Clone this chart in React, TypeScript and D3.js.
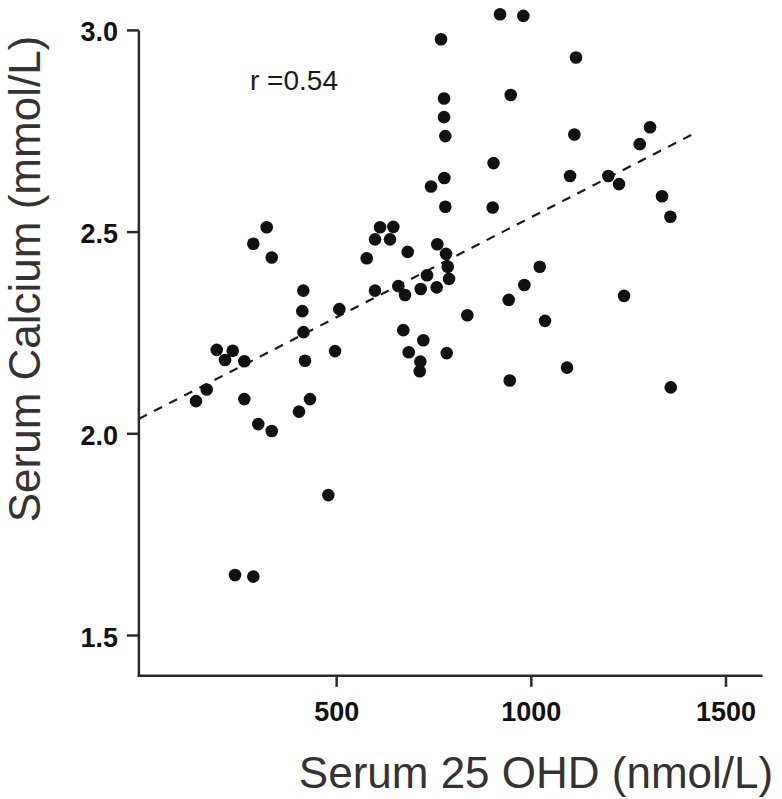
import React from "react";
import * as d3 from "d3";

// Serum 25 OHD (nmol/L) values
const ohd: number[] = [
  919.6, 979.5, 768.0, 1114.8, 947.1, 775.8, 775.8, 779.1, 1110.5, 1304.9,
  1278.4, 902.9, 776.5, 742.4, 1099.4, 1197.8, 1225.3, 1335.7, 779.1, 900.8,
  1357.1, 320.3, 285.9, 333.2, 611.4, 645.5, 598.5, 637.0, 577.2, 682.5,
  758.5, 780.9, 785.3, 788.6, 732.1, 658.4, 675.6, 715.9, 757.0, 598.5,
  1021.6, 982.0, 941.9, 1238.1, 414.3, 411.8, 506.8, 414.8, 495.8, 418.7,
  671.2, 835.6, 1035.2, 722.6, 685.1, 782.7, 714.9, 713.3, 1091.7, 944.5,
  1358.1, 191.9, 233.0, 213.2, 262.8, 166.2, 138.7, 262.8, 431.5, 403.3,
  298.7, 333.2, 478.6, 238.9, 285.9,
];

// Serum calcium (mmol/L) values
const calcium: number[] = [
  3.04, 3.036, 2.978, 2.933, 2.84, 2.831, 2.785, 2.738, 2.742, 2.76,
  2.718, 2.671, 2.634, 2.613, 2.639, 2.639, 2.619, 2.589, 2.563, 2.561,
  2.538, 2.512, 2.471, 2.437, 2.512, 2.513, 2.482, 2.482, 2.435, 2.451,
  2.47, 2.446, 2.414, 2.384, 2.393, 2.366, 2.344, 2.359, 2.363, 2.355,
  2.414, 2.369, 2.332, 2.342, 2.355, 2.304, 2.309, 2.252, 2.205, 2.181,
  2.257, 2.294, 2.28, 2.232, 2.202, 2.2, 2.179, 2.155, 2.164, 2.132,
  2.115, 2.208, 2.206, 2.183, 2.18, 2.11, 2.081, 2.086, 2.086, 2.055,
  2.024, 2.007, 1.848, 1.65, 1.646,
];

const xTicks: number[] = [500, 1000, 1500];
const xTickLabels: string[] = ["500", "1000", "1500"];
const yTicks: number[] = [1.5, 2.0, 2.5, 3.0];
const yTickLabels: string[] = ["1.5", "2.0", "2.5", "3.0"];

// Fitted line
const fitIntercept = 2.041;
const fitSlope = 0.000496;
const fitRange: number[] = [-8, 1413];

const xAxisExtent: number[] = [-8, 1594];
const yAxisExtent: number[] = [1.4, 3.0];

const xTitle = "Serum 25 OHD (nmol/L)";
const yTitle = "Serum Calcium (mmol/L)";
const annotation = "r =0.54";

export default function App() {
  const W = 782;
  const H = 799;
  const x = d3.scaleLinear().domain([0, 1500]).range([142, 726]);
  const y = d3.scaleLinear().domain([1.5, 3.0]).range([635.5, 30.4]);

  const axisColor = "#2b2b2b";
  const points = ohd.map((v, i) => ({ x: v, y: calcium[i] }));
  const line = d3
    .line<number>()
    .x((d) => x(d))
    .y((d) => y(fitIntercept + fitSlope * d));

  const x0 = x(xAxisExtent[0]);
  const x1 = x(xAxisExtent[1]);
  const yTop = y(yAxisExtent[1]);
  const yBot = y(yAxisExtent[0]);

  return (
    <svg
      width={W}
      height={H}
      style={{ position: "absolute", left: 0, top: 0, background: "#fff" }}
      fontFamily="Arial, 'Liberation Sans', Helvetica, sans-serif"
    >
      <rect x={0} y={0} width={W} height={H} fill="#fff" />
      {/* regression line */}
      <path
        d={line(fitRange) || ""}
        fill="none"
        stroke="#1a1a1a"
        strokeWidth={2.2}
        strokeDasharray="9,8"
      />
      {/* points */}
      {points.map((p, i) => (
        <circle key={i} cx={x(p.x)} cy={y(p.y)} r={6.3} fill="#111" />
      ))}
      {/* axes */}
      <line x1={x0} x2={x0} y1={yTop} y2={yBot} stroke={axisColor} strokeWidth={2.5} />
      <line x1={x0 - 1.2} x2={x1} y1={yBot} y2={yBot} stroke={axisColor} strokeWidth={2.5} />
      {yTicks.map((t, i) => (
        <g key={"y" + i}>
          <line x1={x0 - 12} x2={x0} y1={y(t)} y2={y(t)} stroke={axisColor} strokeWidth={2.5} />
          <text
            x={118}
            y={y(t) + 11}
            textAnchor="end"
            fontSize={27}
            fontWeight="bold"
            fill="#111"
          >
            {yTickLabels[i]}
          </text>
        </g>
      ))}
      {xTicks.map((t, i) => (
        <g key={"x" + i}>
          <line x1={x(t)} x2={x(t)} y1={yBot} y2={yBot + 11} stroke={axisColor} strokeWidth={2.5} />
          <text
            x={x(t)}
            y={720.5}
            textAnchor="middle"
            fontSize={27}
            fontWeight="bold"
            fill="#111"
          >
            {xTickLabels[i]}
          </text>
        </g>
      ))}
      {/* annotation */}
      <text x={250} y={90} fontSize={28} fill="#1a1a1a">
        {annotation}
      </text>
      {/* axis titles */}
      <text x={536} y={788} textAnchor="middle" fontSize={44} fill="#333">
        {xTitle}
      </text>
      <text
        transform={`translate(40, 279) rotate(-90)`}
        textAnchor="middle"
        fontSize={44}
        fill="#333"
      >
        {yTitle}
      </text>
    </svg>
  );
}
